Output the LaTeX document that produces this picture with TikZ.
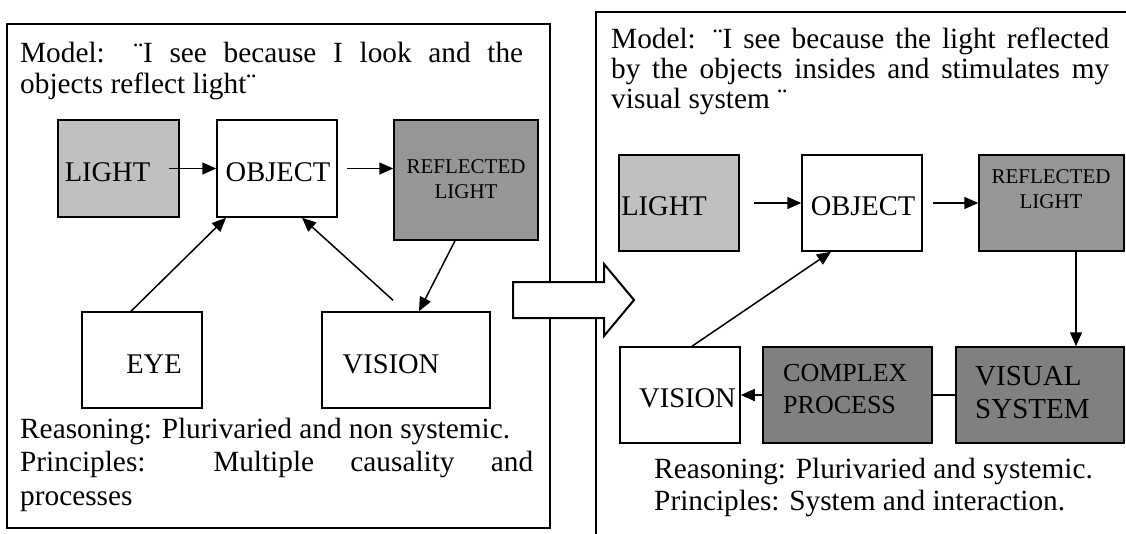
\documentclass[tikz,border=0pt]{standalone}
\usepackage{fontspec}
\setmainfont{Liberation Serif}
\usetikzlibrary{arrows.meta}
\definecolor{lg}{HTML}{C0C0C0}
\definecolor{mg}{HTML}{969696}
\definecolor{dg}{HTML}{808080}
\hbadness=10000
\hfuzz=20pt
\begin{document}
\begin{tikzpicture}[x=1pt,y=-1pt,
  box/.style={draw=black, line width=1.5pt, rectangle, inner sep=0pt},
  lbl/.style={inner sep=0pt, font=\fontsize{28.5}{33}\selectfont},
  small/.style={inner sep=0pt, font=\fontsize{21}{25}\selectfont},
  arr/.style={line width=1.5pt, -{Triangle[length=14pt,width=12pt]}},
  ln/.style={line width=1.5pt},
  panel/.style={line width=2pt},
  txt/.style={inner sep=0pt, anchor=base west}]
\useasboundingbox (0,0) rectangle (1126,533);
\clip (0,0) rectangle (1126,533);

% panels
\draw[panel] (7,24) rectangle (550,528);
\draw[panel] (1140,12) -- (596,12) -- (596,545);

% hollow arrow between panels
\draw[line width=2pt, fill=white, line join=miter]
  (513,282) -- (604,282) -- (604,264) -- (634,300) -- (604,336) -- (604,318) -- (513,318) -- cycle;

% ---------- left panel ----------
\node[txt] (m1) at (20,62) {\parbox[t]{503pt}{\fontsize{29.3}{31}\selectfont Model: ¨I see because I look and the\linebreak objects reflect light¨}};

\node[box, fill=lg, minimum width=121pt, minimum height=97pt] (L1) at (118.5,168.5) {};
\node[lbl] (tL1) at (107.5,172) {LIGHT};
\node[box, fill=white, minimum width=120pt, minimum height=97pt] (O1) at (277,168.5) {};
\node[lbl] (tO1) at (278,172) {OBJECT};
\node[box, fill=mg, minimum width=144pt, minimum height=120pt] (R1) at (466,180) {};
\node[small] (tR1) at (466,181) {\begin{tabular}{@{}c@{}}REFLECTED\\LIGHT\end{tabular}};
\node[box, fill=white, minimum width=120pt, minimum height=96pt] (E1) at (142,360) {};
\node[lbl] (tE1) at (154,364) {EYE};
\node[box, fill=white, minimum width=168pt, minimum height=96pt] (V1) at (406,360) {};
\node[lbl] (tV1) at (391,364) {VISION};

\draw[arr] ([xshift=-11pt]L1.east) -- (O1.west);
\draw[arr] ([xshift=9pt]O1.east) -- (R1.west |- O1.east);
\draw[arr] ([xshift=-11pt]E1.north) -- ([xshift=-51pt]O1.south);
\draw[arr] ([xshift=-13pt,yshift=11pt]V1.north) -- ([xshift=25pt]O1.south);
\draw[arr] ([xshift=-11pt]R1.south) -- ([xshift=13pt]V1.north);

\node[txt] (r1) at (20,438) {\parbox[t]{513pt}{\fontsize{29.3}{33.5}\selectfont Reasoning: Plurivaried and non systemic.\par Principles: Multiple causality and\linebreak processes}};

% ---------- right panel ----------
\node[txt] (m2) at (611,48) {\parbox[t]{498pt}{\fontsize{29.3}{30}\selectfont Model: ¨I see because the light reflected\linebreak by the objects insides and stimulates my\linebreak visual system ¨}};

\node[box, fill=lg, minimum width=120pt, minimum height=96pt] (L2) at (679,203) {};
\node[lbl] (tL2) at (664,206) {LIGHT};
\node[box, fill=white, minimum width=120pt, minimum height=96pt] (O2) at (862,203) {};
\node[lbl] (tO2) at (863,206) {OBJECT};
\node[box, fill=mg, minimum width=145pt, minimum height=96pt] (R2) at (1051.5,203) {};
\node[small] (tR2) at (1051,191) {\begin{tabular}{@{}c@{}}REFLECTED\\LIGHT\end{tabular}};

\node[box, fill=white, minimum width=120pt, minimum height=96pt] (V2) at (680,395) {};
\node[lbl] (tV2) at (687.5,398) {VISION};
\node[box, fill=dg, minimum width=169pt, minimum height=96pt] (CP) at (847.5,395) {};
\node[inner sep=0pt, anchor=west, font=\fontsize{26}{32}\selectfont] (tCP) at (783,391) {\begin{tabular}{@{}l@{}}COMPLEX\\PROCESS\end{tabular}};
\node[box, fill=dg, minimum width=168pt, minimum height=96pt] (VS2) at (1040,395) {};
\node[inner sep=0pt, anchor=west, font=\fontsize{29}{33}\selectfont] (tVS2) at (975,395) {\begin{tabular}{@{}l@{}}VISUAL\\SYSTEM\end{tabular}};

\draw[arr] ([xshift=14pt]L2.east) -- (O2.west);
\draw[arr] ([xshift=10pt]O2.east) -- (R2.west);
\draw[arr] ([xshift=24.5pt]R2.south) -- ([xshift=36pt]VS2.north);
\draw[ln] (VS2.west) -- (CP.east);
\draw[arr] (CP.west) -- (V2.east);
\draw[arr] ([xshift=12pt]V2.north) -- ([xshift=-31pt]O2.south);

\node[txt] (r2) at (654,478) {\parbox[t]{470pt}{\raggedright\fontsize{29.3}{32}\selectfont Reasoning: Plurivaried and systemic.\\ Principles: System and interaction.}};
\end{tikzpicture}
\end{document}
